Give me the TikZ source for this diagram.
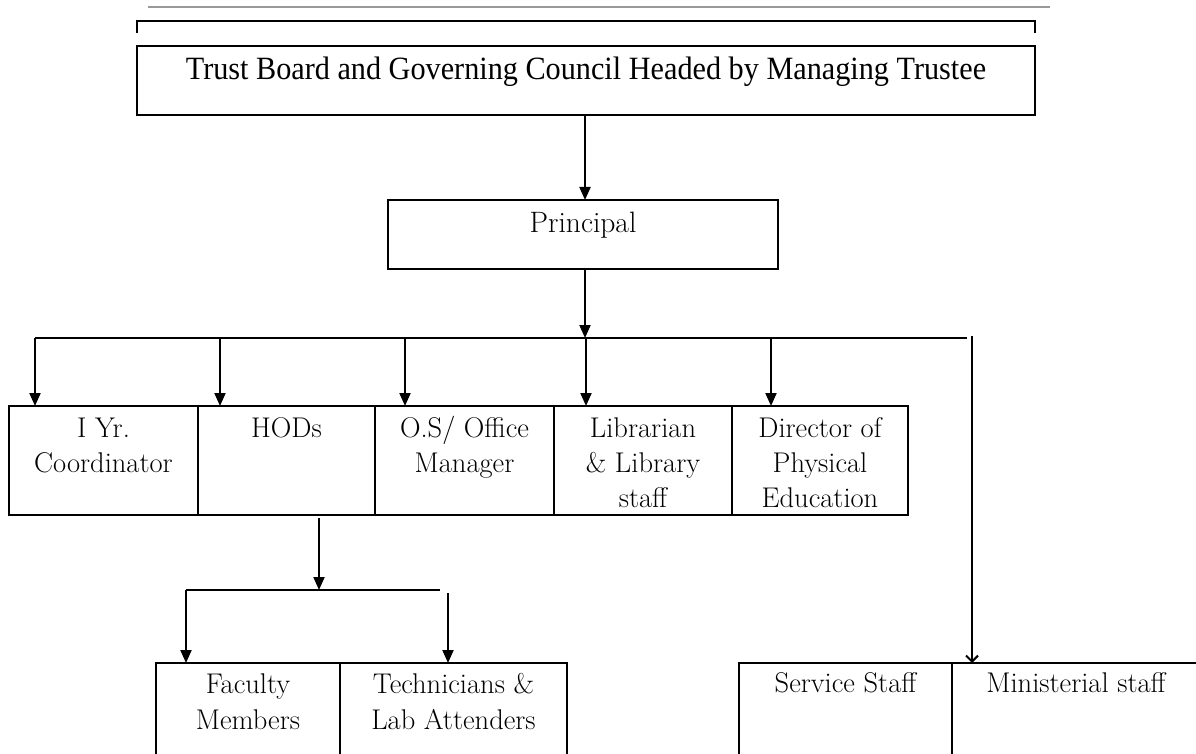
\documentclass[tikz,border=0pt]{standalone}
\usepackage{fontspec}
\usetikzlibrary{arrows.meta}
\newfontfamily\trustfont[FakeStretch=0.93]{Liberation Serif}
\newcommand{\bxt}[4]{\parbox[t][#2pt][t]{#1pt}{\centering\rule{0pt}{#3pt}#4\par}}
\tikzset{
  box/.style={draw, line width=2pt, anchor=north west, inner sep=0pt, outer sep=0pt,
    font=\fontsize{28.5}{35}\selectfont},
  arr/.style={line width=2pt, -{Triangle[length=13pt,width=11pt]}},
  ln/.style={line width=2pt},
}
\begin{document}
\begin{tikzpicture}[x=1pt,y=-1pt]
\useasboundingbox (0,0) rectangle (1196,754);
\clip (0,0) rectangle (1196,754);
% top residue
\draw[line width=2pt, black!40] (148,7) -- (1050,7);
\draw[ln, line join=miter] (137,33) -- (137,21) -- (1035,21) -- (1035,33);
% main boxes
\node[box] (trust) at (137,46) {\bxt{898}{69}{34}{\trustfont\fontsize{32.5}{36}\selectfont Trust Board and Governing Council Headed by Managing Trustee}};
\node[box, font=\fontsize{29.5}{35}\selectfont] (principal) at (388,200) {\bxt{390}{69}{33}{Principal}};
% row
\node[box] (iyr) at (9,406) {\bxt{189}{109}{31}{I Yr.\\Coordinator}};
\node[box] (hods) at (198,406) {\bxt{177}{109}{31}{HODs}};
\node[box] (os) at (375,406) {\bxt{179}{109}{31}{O.S/ Office\\Manager}};
\node[box] (lib) at (554,406) {\bxt{178}{109}{31}{Librarian\\\& Library\\staff}};
\node[box] (dir) at (732,406) {\bxt{176}{109}{31}{Director of\\Physical\\Education}};
% bottom
\node[box, font=\fontsize{28.5}{36}\selectfont] (fac) at (156,663) {\bxt{184}{110}{30}{Faculty\\Members}};
\node[box, font=\fontsize{28.5}{36}\selectfont] (tech) at (340,663) {\bxt{227}{110}{30}{Technicians \&\\Lab Attenders}};
\node[box] (serv) at (739,663) {\bxt{213}{110}{29}{Service Staff}};
\node[box] (mini) at (952,663) {\bxt{248}{110}{29}{Ministerial staff}};
% connector points
\coordinate (bus) at (585,338);
\coordinate (busL) at (35,338);
\coordinate (busR) at (967,338);
\coordinate (b2) at (220,338);
\coordinate (b3) at (405,338);
\coordinate (b4) at (586,338);
\coordinate (b5) at (771,338);
\coordinate (v1) at (972,336);
\coordinate (h1) at (319,518);
\coordinate (h2) at (319,590);
\coordinate (c1) at (186,590);
\coordinate (c2) at (440,590);
\coordinate (c3) at (448,593);
% connectors
\draw[arr] (trust.south -| bus) -- (principal.north -| bus);
\draw[arr] (principal.south -| bus) -- (bus);
\draw[ln] (busL) -- (busR);
\draw[arr] (busL) -- (busL |- iyr.north);
\draw[arr] (b2) -- (b2 |- hods.north);
\draw[arr] (b3) -- (b3 |- os.north);
\draw[arr] (b4) -- (b4 |- lib.north);
\draw[arr] (b5) -- (b5 |- dir.north);
\draw[ln, -{Straight Barb[length=6pt,width=12pt]}] (v1) -- (v1 |- mini.north);
\draw[arr] (h1) -- (h2);
\draw[ln] (c1) -- (c2);
\draw[arr] (c1) -- (c1 |- fac.north);
\draw[arr] (c3) -- (c3 |- tech.north);
\end{tikzpicture}
\end{document}
